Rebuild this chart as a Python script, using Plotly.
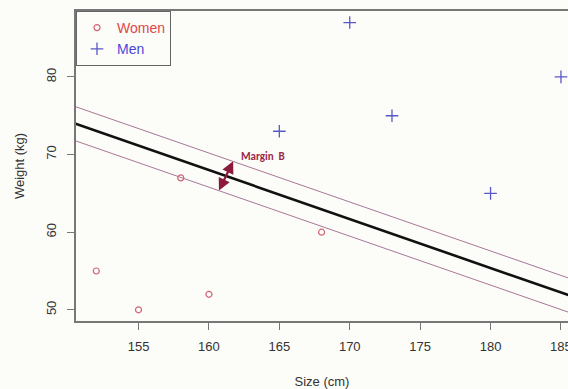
import plotly.graph_objects as go

# Data
women_size = [152, 155, 158, 160, 168]
women_weight = [55, 50, 67, 52, 60]
men_size = [165, 170, 173, 180, 185]
men_weight = [73, 87, 75, 65, 80]

line_x = [150, 186]
center_y = [74.3, 51.6]
upper_y = [76.5, 53.8]
lower_y = [72.1, 49.4]

x_ticks = [155, 160, 165, 170, 175, 180, 185]
y_ticks = [50, 60, 70, 80]

font = "Liberation Sans, Arial, sans-serif"
fig = go.Figure()

fig.add_trace(go.Scatter(x=line_x, y=upper_y, mode="lines",
                         line=dict(color="#a87898", width=1), showlegend=False, hoverinfo="skip"))
fig.add_trace(go.Scatter(x=line_x, y=lower_y, mode="lines",
                         line=dict(color="#a87898", width=1), showlegend=False, hoverinfo="skip"))
fig.add_trace(go.Scatter(x=line_x, y=center_y, mode="lines",
                         line=dict(color="#111111", width=2.6), showlegend=False, hoverinfo="skip"))

fig.add_trace(go.Scatter(x=women_size, y=women_weight, mode="markers",
                         name="<span style='color:#e04848'>Women</span>",
                         marker=dict(symbol="circle-open", size=6, color="#d06474", line=dict(width=1.2))))
fig.add_trace(go.Scatter(x=men_size, y=men_weight, mode="markers",
                         name="<span style='color:#4848d8'>Men</span>",
                         marker=dict(symbol="cross-thin-open", size=9, color="#5858c8", line=dict(width=1.3, color="#5858c8"))))

fig.add_annotation(x=161.72, y=69.15, ax=160.66, ay=65.16, xref="x", yref="y", axref="x", ayref="y",
                   showarrow=True, arrowhead=2, startarrowhead=2, arrowside="end+start",
                   arrowsize=1.1, arrowwidth=2.2, arrowcolor="#8b1a3c", text="")
fig.add_annotation(x=162.1, y=69.8, xref="x", yref="y", text="<b>Margin  B</b>", showarrow=False,
                   xanchor="left", yanchor="middle", font=dict(family="Carlito, Liberation Sans, sans-serif", size=11, color="#9b2848"))

fig.update_layout(
    width=568, height=389,
    margin=dict(l=76, r=0, t=11, b=68, autoexpand=False),
    paper_bgcolor="#fcfcf8", plot_bgcolor="#fcfcf8",
    font=dict(family=font, size=13, color="#333333"),
    showlegend=True,
    legend=dict(x=0, y=1, xanchor="left", yanchor="top", bordercolor="#666666", borderwidth=1,
                bgcolor="#fcfcf8", font=dict(size=14), itemwidth=30, tracegroupgap=0),
    xaxis=dict(range=[150.56, 185.5], tickvals=x_ticks, showgrid=False, zeroline=False, automargin=False,
               showline=True, linecolor="#777777", linewidth=1.5, mirror=True,
               ticks="outside", ticklen=7, tickcolor="#777777", ticklabelstandoff=6,
               ticklabeloverflow="allow",
               title=dict(text="Size (cm)", standoff=26, font=dict(size=13))),
    yaxis=dict(range=[48.56, 88.49], tickvals=y_ticks, showgrid=False, zeroline=False, automargin=False,
               showline=True, linecolor="#777777", linewidth=1.5, mirror=False,
               ticks="outside", ticklen=7, tickcolor="#777777", tickangle=-90, ticklabelstandoff=6,
               title=dict(text="Weight (kg)", standoff=16, font=dict(size=13))),
)

fig.write_html("out.html", config={"displayModeBar": False},
               post_script="document.body.style.margin='0';document.body.style.overflow='hidden';document.body.style.background='#fcfcf8';")
